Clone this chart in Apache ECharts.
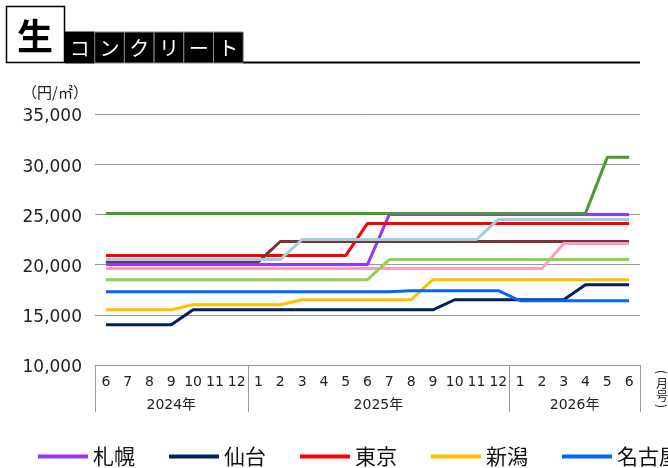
<!DOCTYPE html>
<html>
<head>
<meta charset="utf-8">
<script src="https://cdn.jsdelivr.net/npm/echarts@6/dist/echarts.min.js"></script>
<style>
html, body { margin: 0; background: #fff; }
#chart { width: 668px; height: 468px; }
</style>
</head>
<body>
<div id="chart"></div>
<script>
// 月ラベル（2024年6月〜2026年6月）
var months = ['6','7','8','9','10','11','12','1','2','3','4','5','6','7','8','9','10','11','12','1','2','3','4','5','6'];
var yearLabels = ['2024年', '2025年', '2026年'];
var yearCounts = [7, 12, 6];

var yTicks = [10000, 15000, 20000, 25000, 30000, 35000];

var titleMain = '生';
var titleSub = ['コ', 'ン', 'ク', 'リ', 'ー', 'ト'];
var unitText = '（円/㎡）';
var xUnitChars = ['(', '月', '号', ')'];

var sapporo = [20000,20000,20000,20000,20000,20000,20000,20000,20000,20000,20000,20000,20000,25000,25000,25000,25000,25000,25000,25000,25000,25000,25000,25000,25000];
var sendai  = [14000,14000,14000,14000,15500,15500,15500,15500,15500,15500,15500,15500,15500,15500,15500,15500,16500,16500,16500,16500,16500,16500,18000,18000,18000];
var tokyo   = [20900,20900,20900,20900,20900,20900,20900,20900,20900,20900,20900,20900,24100,24100,24100,24100,24100,24100,24100,24100,24100,24100,24100,24100,24100];
var niigata = [15500,15500,15500,15500,16000,16000,16000,16000,16000,16500,16500,16500,16500,16500,16500,18500,18500,18500,18500,18500,18500,18500,18500,18500,18500];
var nagoya  = [17300,17300,17300,17300,17300,17300,17300,17300,17300,17300,17300,17300,17300,17300,17400,17400,17400,17400,17400,16400,16400,16400,16400,16400,16400];
var osaka   = [25100,25100,25100,25100,25100,25100,25100,25100,25100,25100,25100,25100,25100,25100,25100,25100,25100,25100,25100,25100,25100,25100,25100,30700,30700];
var hiroshima = [20300,20300,20300,20300,20300,20300,20300,20300,22300,22300,22300,22300,22300,22300,22300,22300,22300,22300,22300,22300,22300,22300,22300,22300,22300];
var takamatsu = [20500,20500,20500,20500,20500,20500,20500,20500,20500,22500,22500,22500,22500,22500,22500,22500,22500,22500,24500,24500,24500,24500,24500,24500,24500];
var fukuoka = [19600,19600,19600,19600,19600,19600,19600,19600,19600,19600,19600,19600,19600,19600,19600,19600,19600,19600,19600,19600,19600,22100,22100,22100,22100];
var naha    = [18500,18500,18500,18500,18500,18500,18500,18500,18500,18500,18500,18500,18500,20500,20500,20500,20500,20500,20500,20500,20500,20500,20500,20500,20500];

var seriesList = [
    { name: '札幌', data: sapporo, color: '#9933FF' },
    { name: '仙台', data: sendai, color: '#002060' },
    { name: '東京', data: tokyo, color: '#FF0000' },
    { name: '新潟', data: niigata, color: '#FFC000' },
    { name: '名古屋', data: nagoya, color: '#0066FF' },
    { name: '大阪', data: osaka, color: '#4A9A2E' },
    { name: '広島', data: hiroshima, color: '#7B3232' },
    { name: '高松', data: takamatsu, color: '#9DCFE0' },
    { name: '福岡', data: fukuoka, color: '#FF99CC' },
    { name: '那覇', data: naha, color: '#92D050' }
];

var numFont = 'DejaVu Sans, Noto Sans CJK JP';
var jpFont = 'Noto Sans CJK JP';

var chart = echarts.init(document.getElementById('chart'), null, { renderer: 'canvas' });

var option = {
    animation: false,
    grid: { left: 95, right: 28, top: 114, bottom: 103 },
    legend: {
        left: 38,
        top: 446,
        padding: 0,
        width: 2000,
        icon: 'rect',
        itemWidth: 50,
        itemHeight: 4,
        itemGap: 34,
        textStyle: { fontFamily: jpFont, fontSize: 21, color: '#111' },
        data: seriesList.map(function (s) { return s.name; })
    },
    xAxis: {
        type: 'category',
        data: months,
        boundaryGap: true,
        axisLine: { lineStyle: { color: '#999', width: 1 } },
        axisTick: { show: false },
        axisLabel: { interval: 0, margin: 10, color: '#222', fontFamily: numFont, fontSize: 14 }
    },
    yAxis: {
        type: 'value',
        min: yTicks[0],
        max: yTicks[yTicks.length - 1],
        interval: 5000,
        axisLine: { show: false },
        axisTick: { show: false },
        splitLine: { lineStyle: { color: '#999', width: 1 } },
        axisLabel: {
            margin: 13,
            formatter: function (v) { return '{v|' + v.toLocaleString('en-US') + '}'; },
            rich: {
                v: { padding: [6, 0, 0, 0], color: '#222', fontFamily: numFont, fontSize: 17 }
            }
        }
    },
    series: seriesList.map(function (s) {
        return {
            name: s.name,
            type: 'line',
            data: s.data,
            color: s.color,
            showSymbol: false,
            symbol: 'none',
            lineStyle: { width: 3, color: s.color }
        };
    })
};
chart.setOption(option);

// 見出し・年区切りなどの装飾
var graphics = [];
graphics.push({
    type: 'rect', shape: { x: 6.5, y: 6.5, width: 58, height: 56 },
    style: { fill: '#fff', stroke: '#000', lineWidth: 1.5 }
});
graphics.push({
    type: 'text', x: 35, y: 36,
    style: { text: titleMain, fontFamily: jpFont, fontWeight: 'bold', fontSize: 36, fill: '#000', align: 'center', verticalAlign: 'middle' }
});
var boxW = 29.7;
titleSub.forEach(function (ch, i) {
    var x0 = 65 + i * boxW;
    graphics.push({
        type: 'rect', shape: { x: x0, y: 32, width: boxW, height: 31 },
        style: { fill: '#000', stroke: i > 0 ? '#888' : '#000', lineWidth: 1 }
    });
    graphics.push({
        type: 'text', x: x0 + boxW / 2, y: 48,
        style: { text: ch, fontFamily: jpFont, fontSize: 20, fill: '#fff', align: 'center', verticalAlign: 'middle' }
    });
});
graphics.push({
    type: 'line', shape: { x1: 65 + 6 * boxW, y1: 62.5, x2: 640, y2: 62.5 },
    style: { stroke: '#000', lineWidth: 2 }
});
graphics.push({
    type: 'text', x: 55, y: 92,
    style: { text: unitText, fontFamily: jpFont, fontSize: 15, fill: '#222', align: 'center', verticalAlign: 'middle' }
});

// 年の区切り線と年ラベル（軸の座標から計算）
var p0 = chart.convertToPixel({ xAxisIndex: 0 }, 0);
var p1 = chart.convertToPixel({ xAxisIndex: 0 }, 1);
var band = p1 - p0;
var axisY = chart.convertToPixel({ yAxisIndex: 0 }, yTicks[0]);
var start = 0;
var bounds = [p0 - band / 2];
yearLabels.forEach(function (label, k) {
    var left = chart.convertToPixel({ xAxisIndex: 0 }, start) - band / 2;
    var right = left + yearCounts[k] * band;
    bounds.push(right);
    graphics.push({
        type: 'text', x: (left + right) / 2, y: axisY + 40,
        style: { text: label, fontFamily: numFont, fontSize: 14, fill: '#222', align: 'center', verticalAlign: 'middle' }
    });
    start += yearCounts[k];
});
bounds.forEach(function (bx) {
    var x = Math.round(bx) + 0.5;
    graphics.push({
        type: 'line', shape: { x1: x, y1: axisY, x2: x, y2: axisY + 47 },
        style: { stroke: '#999', lineWidth: 1 }
    });
});
// 縦書きの「(月号)」：括弧は回転させる
var unitYs = [372, 383, 396, 406];
xUnitChars.forEach(function (ch, i) {
    var isParen = (i === 0 || i === xUnitChars.length - 1);
    graphics.push({
        type: 'text', x: 662, y: unitYs[i],
        rotation: isParen ? -Math.PI / 2 : 0,
        style: { text: ch, fontFamily: jpFont, fontSize: 12, fill: '#222', align: 'center', verticalAlign: 'middle' }
    });
});

chart.setOption({ graphic: graphics });
</script>
</body>
</html>
